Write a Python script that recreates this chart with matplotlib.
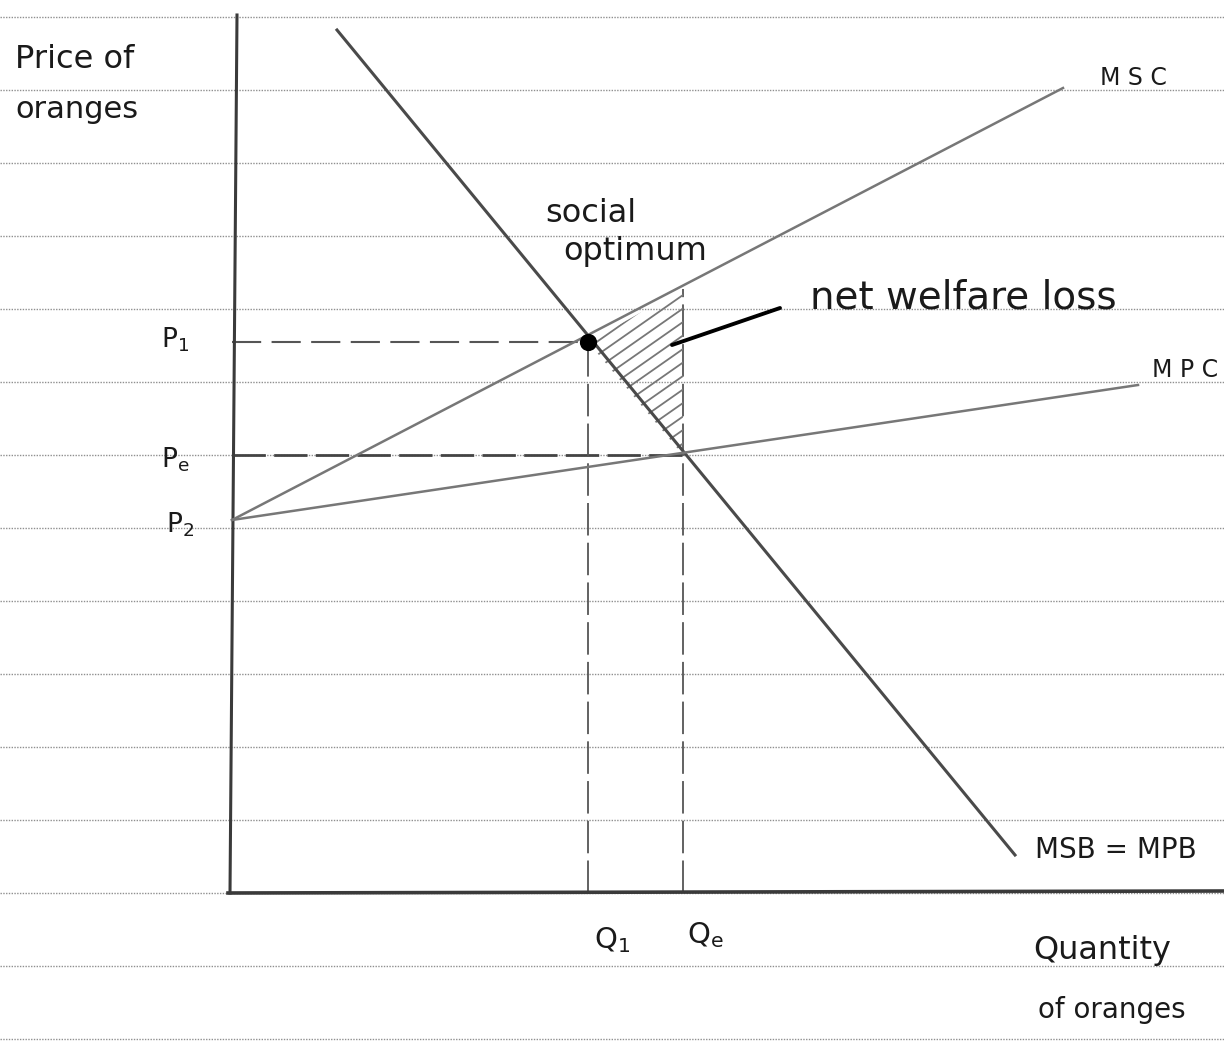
import matplotlib.pyplot as plt
import numpy as np
from matplotlib.patches import Polygon

# Curve endpoints (quantity, price) in arbitrary units, origin at axis corner
demand_q = [1.07, 7.85]
demand_p = [8.63, 0.38]
msc_q = [0.02, 8.33]
msc_p = [3.73, 8.05]
mpc_q = [0.02, 9.08]
mpc_p = [3.73, 5.08]

# Key prices and quantities
p1, pe, p2 = 5.51, 4.38, 3.73
q1, qe = 3.58, 4.53
msc_at_qe = 6.04

# Notebook ruling (paper background)
rule_step = 0.73

fig = plt.figure(figsize=(12.24, 10.46), dpi=100)
ax = fig.add_axes([0, 0, 1, 1])
ax.set_xlim(-2.30, 9.94)
ax.set_ylim(-1.53, 8.93)
ax.axis('off')

# ruled paper lines
for y in np.arange(-2, 13) * rule_step:
    ax.axhline(y, color='#8f8f8f', lw=1.0, ls=(0, (1, 1.0)), zorder=0)

# axes
ax.plot([0.07, 0.0], [8.78, 0.0], color='#3a3a3a', lw=2.2, zorder=3)
ax.plot([-0.02, 9.94], [0.0, 0.02], color='#3a3a3a', lw=2.6, zorder=3)

# curves
ax.plot(demand_q, demand_p, color='#4a4a4a', lw=2.2, zorder=3)
ax.plot(msc_q, msc_p, color='#777777', lw=1.8, zorder=3)
ax.plot(mpc_q, mpc_p, color='#777777', lw=1.8, zorder=3)

# dashed guides
ax.plot([0.02, q1], [p1, p1], color='#555555', lw=1.5, ls=(0, (14, 5)), zorder=2)
ax.plot([0.02, qe], [pe, pe], color='#444444', lw=2.0, ls=(0, (12, 3)), zorder=2)
ax.plot([q1, q1], [0, p1], color='#555555', lw=1.3, ls=(0, (18, 4)), zorder=2)
ax.plot([qe, qe], [0, msc_at_qe], color='#555555', lw=1.3, ls=(0, (18, 4)), zorder=2)

# net welfare loss triangle, hatched by hand
tri = Polygon([[q1, p1], [qe, msc_at_qe], [qe, pe]], closed=True,
              facecolor='none', edgecolor='none')
ax.add_patch(tri)
hx = np.array([q1 - 0.2, qe + 0.2])
for c in np.arange(-1.95, 0.5, 0.135):
    ln, = ax.plot(hx, p1 + 0.7 * (hx - q1) + c, color='#777777', lw=1.3, zorder=2)
    ln.set_clip_path(tri)

# social optimum point
ax.scatter([q1], [p1], s=130, color='black', zorder=5)

# pointer to welfare loss
ax.plot([4.42, 5.50], [5.48, 5.85], color='black', lw=2.8, solid_capstyle='round', zorder=4)

# labels
txt = dict(color='#1a1a1a')
ax.text(-2.15, 8.33, 'Price of', fontsize=23, ha='left', va='center', **txt)
ax.text(-2.15, 7.83, 'oranges', fontsize=22, ha='left', va='center', **txt)
ax.text(3.15, 6.79, 'social', fontsize=23, ha='left', va='center', **txt)
ax.text(3.33, 6.41, 'optimum', fontsize=23, ha='left', va='center', **txt)
ax.text(5.80, 5.95, 'net welfare loss', fontsize=28, ha='left', va='center', **txt)
ax.text(8.70, 8.15, 'M S C', fontsize=17, ha='left', va='center', **txt)
ax.text(9.22, 5.23, 'M P C', fontsize=17, ha='left', va='center', **txt)
ax.text(8.05, 0.43, 'MSB = MPB', fontsize=20, ha='left', va='center', **txt)
ax.text(-0.55, 5.53, r'$\mathrm{P_1}$', fontsize=19, ha='center', va='center', **txt)
ax.text(-0.55, 4.33, r'$\mathrm{P_e}$', fontsize=19, ha='center', va='center', **txt)
ax.text(-0.50, 3.68, r'$\mathrm{P_2}$', fontsize=19, ha='center', va='center', **txt)
ax.text(3.82, -0.47, r'$\mathrm{Q_1}$', fontsize=21, ha='center', va='center', **txt)
ax.text(4.75, -0.42, r'$\mathrm{Q_e}$', fontsize=21, ha='center', va='center', **txt)
ax.text(8.03, -0.57, 'Quantity', fontsize=23, ha='left', va='center', **txt)
ax.text(8.08, -1.17, 'of oranges', fontsize=20, ha='left', va='center', **txt)

fig.savefig('out.png', dpi=100, facecolor='white')
